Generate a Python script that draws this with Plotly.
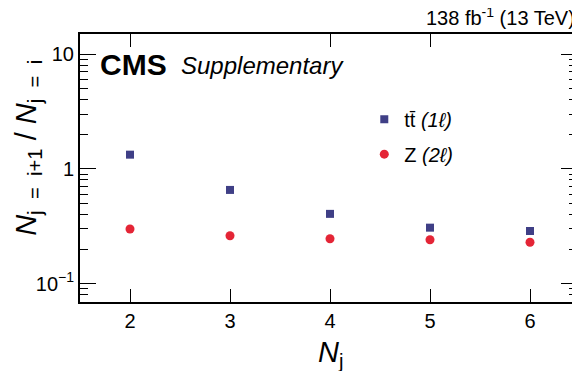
import plotly.graph_objects as go
import math

nj = [2, 3, 4, 5, 6]
ttbar_ratio = [1.33, 0.655, 0.405, 0.307, 0.287]
z_ratio = [0.299, 0.261, 0.246, 0.241, 0.229]

y_major = [0.1, 1, 10]
y_major_text = ["10<sup>\u22121</sup>", "1", "10"]
y_minor = [0.07, 0.08, 0.09, 0.2, 0.3, 0.4, 0.5, 0.6, 0.7, 0.8, 0.9,
           2, 3, 4, 5, 6, 7, 8, 9]
x_major = [2, 3, 4, 5, 6]
x_top_ticks = [2, 4, 5]

FONT = "Liberation Sans, Arial, Helvetica, sans-serif"
BLUE = "#3f3f86"
RED = "#e42536"

yr = [math.log10(0.069), math.log10(15.0)]
xr = [1.5, 6.47]

fig = go.Figure()
fig.add_trace(go.Scatter(
    x=nj, y=ttbar_ratio, mode="markers", name="tt\u0304 <i>(1\u2113)</i>",
    marker=dict(symbol="square", size=8, color=BLUE),
    legendgroup="a"))
fig.add_trace(go.Scatter(
    x=nj, y=z_ratio, mode="markers", name="Z <i>(2\u2113)</i>",
    marker=dict(symbol="circle", size=9, color=RED),
    legendgroup="b"))
# empty trace to activate mirrored axes
fig.add_trace(go.Scatter(x=[], y=[], xaxis="x2", yaxis="y2", showlegend=False,
                         hoverinfo="skip"))

common_y = dict(type="log", range=yr, showgrid=False, zeroline=False,
                ticks="inside", ticklen=16, tickwidth=1, tickcolor="black",
                tickvals=y_major,
                minor=dict(ticks="inside", ticklen=8, tickcolor="black",
                           tickwidth=1, tickvals=y_minor, showgrid=False),
                showline=True, linecolor="black", linewidth=2)
common_x = dict(range=xr, showgrid=False, zeroline=False,
                ticks="inside", ticklen=13, tickwidth=1, tickcolor="black",
                showline=True, linecolor="black", linewidth=2)

# page body has an 8px margin, so the figure is laid out 8px smaller
fig.update_layout(
    width=572, height=363,
    margin=dict(l=72, r=3, t=26, b=69),
    paper_bgcolor="white", plot_bgcolor="white",
    font=dict(family=FONT, size=20, color="black"),
    xaxis=dict(**common_x, tickvals=x_major,
               ticktext=[str(v) for v in x_major], tickfont=dict(size=20)),
    yaxis=dict(**common_y, ticktext=y_major_text, tickfont=dict(size=20)),
    xaxis2=dict(**common_x, tickvals=x_top_ticks, overlaying="x", side="top",
                showticklabels=False),
    yaxis2=dict(**common_y, overlaying="y", side="right", showticklabels=False),
    showlegend=True,
    legend=dict(x=0.572, y=0.755, xanchor="left", yanchor="top",
                bgcolor="rgba(0,0,0,0)", font=dict(size=20),
                traceorder="grouped", tracegroupgap=6,
                itemsizing="trace"),
)

fig.add_annotation(text="<i>N</i><sub>j</sub>", xref="paper", yref="paper",
                   x=0.505, y=-0.118, xanchor="center", yanchor="top",
                   showarrow=False, font=dict(size=29))
sp = "&nbsp;&nbsp;"
sp1 = "&nbsp;"
fig.add_annotation(text="<i>N</i><sub>j" + sp + "=" + sp + "i+1</sub>"
                   + sp1 + "/" + sp1 + "<i>N</i><sub>j" + sp + "=" + sp + "i</sub>",
                   xref="paper", yref="paper", x=-0.145, y=0.575,
                   xanchor="left", yanchor="middle", textangle=-90,
                   showarrow=False, font=dict(size=29))
fig.add_annotation(text="138 fb<sup>-1</sup> (13 TeV)", xref="paper", yref="paper",
                   x=1.0, y=1.01, xanchor="right", yanchor="bottom",
                   showarrow=False, font=dict(size=20))
fig.add_annotation(text="<b>CMS</b>", xref="paper", yref="paper",
                   x=0.036, y=0.955, xanchor="left", yanchor="top",
                   showarrow=False, font=dict(size=30))
fig.add_annotation(text="<i>Supplementary</i>", xref="paper", yref="paper",
                   x=0.2, y=0.94, xanchor="left", yanchor="top",
                   showarrow=False, font=dict(size=24))

fig.write_html("out.html")
